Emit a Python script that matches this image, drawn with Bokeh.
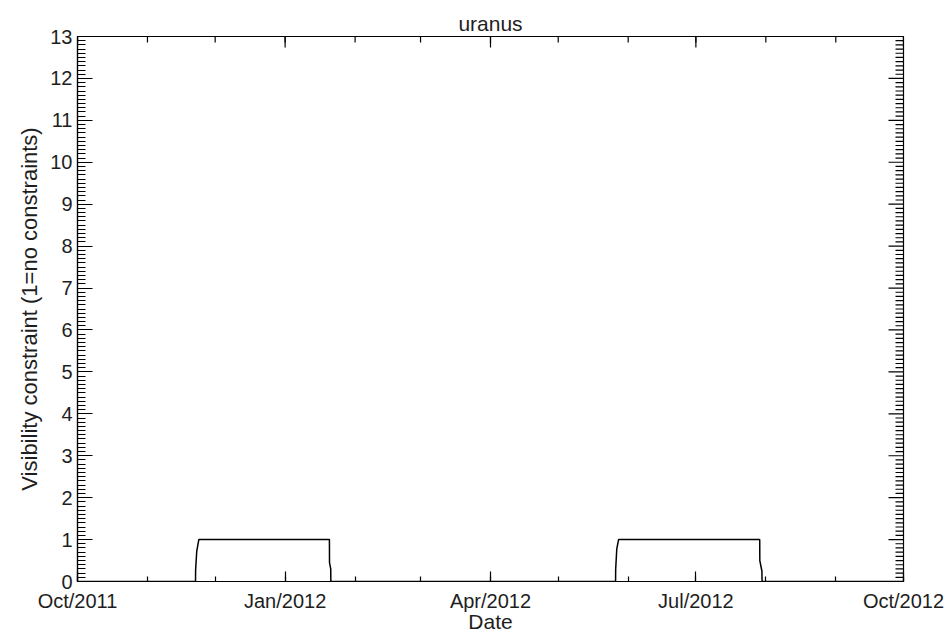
import math
import pandas as pd
from bokeh.plotting import figure
from bokeh.models import (Range1d, LinearAxis, DatetimeAxis, FixedTicker,
                          DatetimeTickFormatter)
from bokeh.embed import file_html
from bokeh.resources import INLINE

# ---------------- data ----------------
TITLE = "uranus"
X_LABEL = "Date"
Y_LABEL = "Visibility constraint (1=no constraints)"

x_start = "2011-10-01"
x_end = "2012-10-01"
y_min, y_max = 0, 13

dates = ["2011-10-01 00:00",
         "2011-11-22 07:00", "2011-11-22 08:00", "2011-11-22 20:00", "2011-11-23 18:00",
         "2012-01-20 15:00", "2012-01-20 16:00", "2012-01-21 05:00", "2012-01-21 06:00",
         "2012-05-26 10:00", "2012-05-26 11:00", "2012-05-26 23:00", "2012-05-27 18:00",
         "2012-07-29 07:00", "2012-07-29 08:00", "2012-07-30 06:00", "2012-07-30 08:00",
         "2012-10-01 00:00"]
values = [0,
          0, 0.27, 0.72, 1,
          1, 0.45, 0.3, 0,
          0, 0.28, 0.78, 1,
          1, 0.5, 0.25, 0,
          0]

major_tick_dates = ["2011-10-01", "2012-01-01", "2012-04-01", "2012-07-01", "2012-10-01"]
minor_tick_dates = ["2011-10-01", "2011-11-01", "2011-12-01", "2012-01-01", "2012-02-01",
                    "2012-03-01", "2012-04-01", "2012-05-01", "2012-06-01", "2012-07-01",
                    "2012-08-01", "2012-09-01", "2012-10-01"]
y_major_ticks = [0, 1, 2, 3, 4, 5, 6, 7, 8, 9, 10, 11, 12, 13]
y_minor_per_major = 10


def ms(d):
    return pd.Timestamp(d).value // 10**6


xs = [ms(d) for d in dates]
major_ms = [ms(d) for d in major_tick_dates]
minor_ms = [ms(d) for d in minor_tick_dates]
y_minor_ticks = [float(m) + k / y_minor_per_major
                 for m in y_major_ticks[:-1] for k in range(1, y_minor_per_major)]

FONT = "Liberation Sans"
TXT = "#1e1e1e"
LW = 1.2

p = figure(width=949, height=635, x_axis_type=None, y_axis_type=None,
           x_range=Range1d(ms(x_start), ms(x_end)), y_range=Range1d(y_min, y_max),
           output_backend="svg", toolbar_location=None, title=TITLE,
           min_border_left=77, min_border_right=46, min_border_top=36, min_border_bottom=54)
p.background_fill_color = "white"
p.border_fill_color = "white"
p.outline_line_color = "black"
p.outline_line_width = LW

p.title.align = "center"
p.title.text_font = FONT
p.title.text_font_size = "21px"
p.title.text_font_style = "normal"
p.title.text_color = TXT
p.title.standoff = 4

fmt = DatetimeTickFormatter(days="%b/%Y", months="%b/%Y", years="%b/%Y", hours="%b/%Y")


def style_axis(ax, maj_in, min_in):
    ax.axis_line_color = "black"
    ax.axis_line_width = LW
    ax.major_tick_line_color = "black"
    ax.minor_tick_line_color = "black"
    ax.major_tick_line_width = LW
    ax.minor_tick_line_width = LW
    ax.major_tick_in = maj_in
    ax.major_tick_out = 0
    ax.minor_tick_in = min_in
    ax.minor_tick_out = 0
    ax.major_label_text_font = FONT
    ax.major_label_text_color = TXT
    ax.major_label_text_font_size = "20px"
    ax.axis_label_text_font = FONT
    ax.axis_label_text_color = TXT
    ax.axis_label_text_font_style = "normal"


xt = FixedTicker(ticks=major_ms, minor_ticks=minor_ms)
yt = FixedTicker(ticks=y_major_ticks, minor_ticks=y_minor_ticks)

xb = DatetimeAxis(ticker=xt, formatter=fmt, axis_label=X_LABEL)
style_axis(xb, 10, 5)
xb.axis_label_text_font_size = "21px"
xb.major_label_standoff = 8
xb.axis_label_standoff = -5
p.add_layout(xb, "below")

yl = LinearAxis(ticker=yt, axis_label=Y_LABEL)
style_axis(yl, 15, 8)
yl.axis_label_text_font_size = "22px"
yl.major_label_standoff = 5
yl.axis_label_standoff = 5
p.add_layout(yl, "left")

# ticks on the top and right frame edges (no labels), pointing inward
p.ray(x=major_ms, y=[y_max] * len(major_ms), length=11, length_units="screen",
      angle=-math.pi / 2, line_color="black", line_width=LW)
p.ray(x=minor_ms, y=[y_max] * len(minor_ms), length=6, length_units="screen",
      angle=-math.pi / 2, line_color="black", line_width=LW)
p.ray(x=[ms(x_end)] * len(y_major_ticks), y=y_major_ticks, length=15, length_units="screen",
      angle=math.pi, line_color="black", line_width=LW)
p.ray(x=[ms(x_end)] * len(y_minor_ticks), y=y_minor_ticks, length=8, length_units="screen",
      angle=math.pi, line_color="black", line_width=LW)

p.line(x=xs, y=values, line_color="black", line_width=1.5)

open("out.html", "w").write(file_html(p, INLINE))
